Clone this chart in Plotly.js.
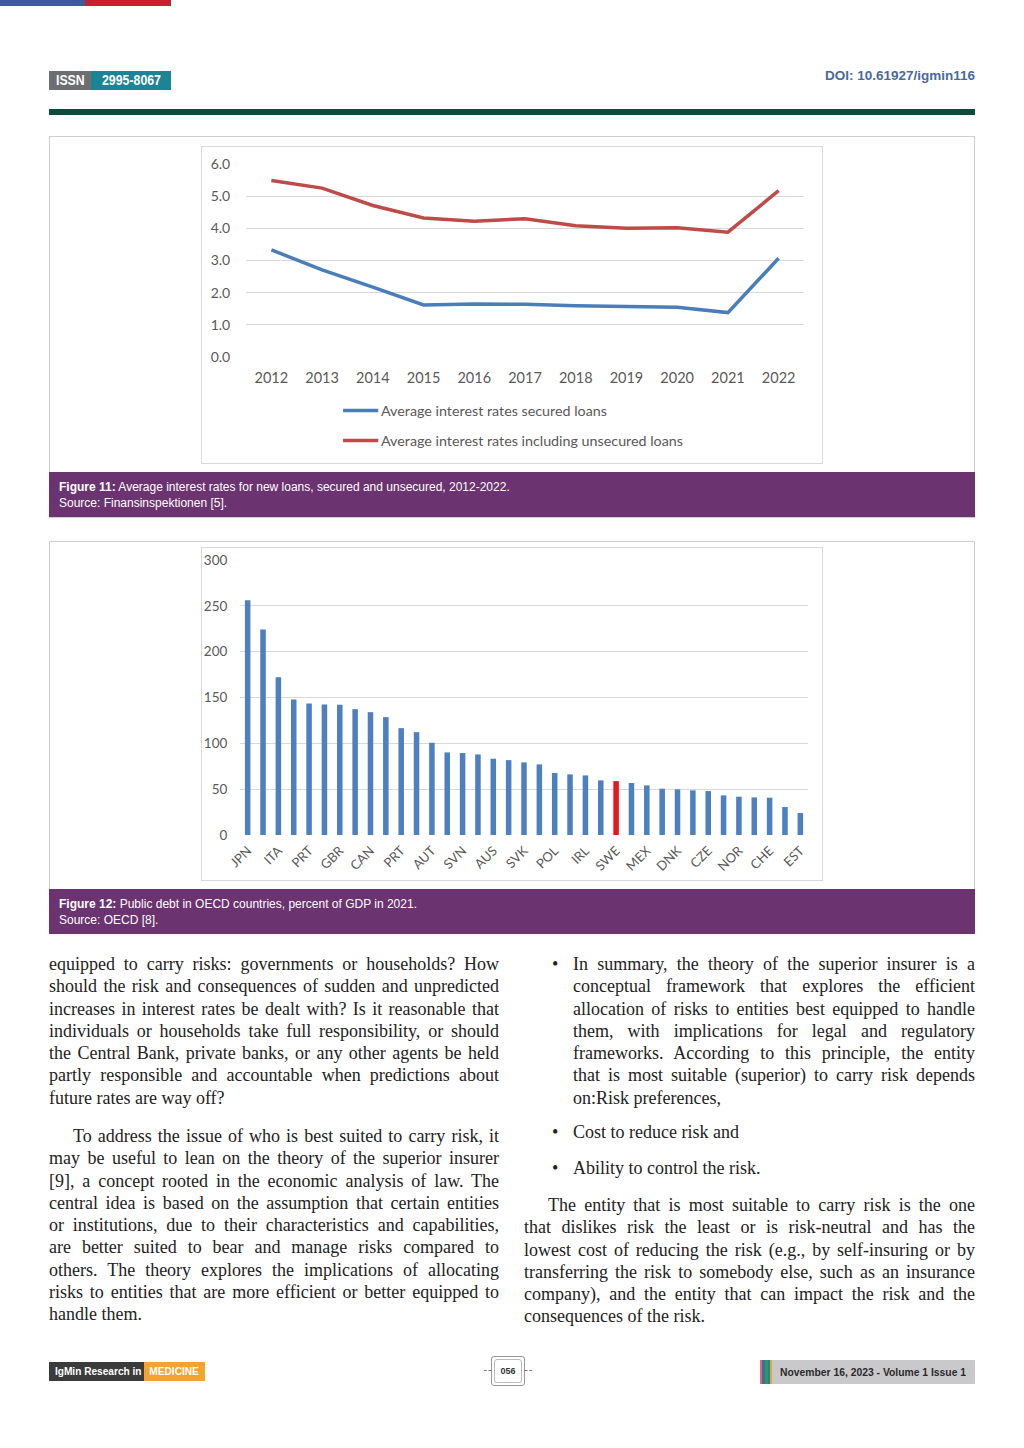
<!DOCTYPE html>
<html><head><meta charset="utf-8">
<script src="https://cdn.plot.ly/plotly-3.0.1.min.js"></script>
<style>
html,body{margin:0;padding:0;background:#fff;}
body{width:1024px;height:1448px;position:relative;overflow:hidden;font-family:"Liberation Sans",Arial,sans-serif;}
.abs{position:absolute;}
.cond{font-family:"Liberation Sans",Arial,sans-serif;font-weight:bold;white-space:nowrap;overflow:hidden;}
.sqc{display:inline-block;transform:scaleX(0.88);transform-origin:center center;}
.figbox{position:absolute;left:49px;width:926px;border:1px solid #cdcdcd;box-sizing:border-box;background:#fff;}
.chartbox{position:absolute;border:1px solid #d9d9d9;box-sizing:border-box;background:#fff;}
.cap{position:absolute;left:49px;width:926px;background:#6b336f;color:#fff;font-size:12px;line-height:15.5px;box-sizing:border-box;padding:8px 10px;}
.col{position:absolute;font-family:"Liberation Serif","Times New Roman",serif;font-size:18px;line-height:22.3px;color:#222;}
.ln{display:block;text-align:justify;text-align-last:justify;height:22.3px;}
.ln.last{text-align:left;text-align-last:left;}
.bul{position:absolute;left:-21px;}
</style></head><body>
<!-- top accent bar -->
<div class="abs" style="left:0;top:0;width:85px;height:6px;background:#3f5b9c"></div>
<div class="abs" style="left:85px;top:0;width:86px;height:6px;background:#c5212f"></div>
<!-- ISSN badge -->
<div class="abs cond" style="left:49px;top:71px;width:42px;height:19px;background:#6d6e71;color:#fff;font-size:14px;line-height:19px;text-align:center"><span class="sqc">ISSN</span></div>
<div class="abs cond" style="left:91px;top:71px;width:80px;height:19px;background:#1b8597;color:#fff;font-size:14px;line-height:19px;text-align:center"><span class="sqc">2995-8067</span></div>
<div class="abs cond" style="left:805px;top:67px;width:170px;height:18px;color:#4a6a9c;font-size:13.5px;line-height:18px;text-align:right">DOI: 10.61927/igmin116</div>
<div class="abs" style="left:49px;top:109px;width:926px;height:6px;background:#0c4a3c"></div>

<!-- Figure 11 -->
<div class="figbox" style="top:136px;height:382px"></div>
<div class="chartbox" style="left:201px;top:146px;width:622px;height:318px"><div id="chart1" style="width:620px;height:316px"></div></div>
<div class="cap" style="top:472px;height:45px"><b>Figure 11:</b> Average interest rates for new loans, secured and unsecured, 2012-2022.<br>Source: Finansinspektionen [5].</div>

<!-- Figure 12 -->
<div class="figbox" style="top:541px;height:393px"></div>
<div class="chartbox" style="left:201px;top:547px;width:622px;height:334px"><div id="chart2" style="width:620px;height:332px"></div></div>
<div class="cap" style="top:889px;height:45px"><b>Figure 12:</b> Public debt in OECD countries, percent of GDP in 2021.<br>Source: OECD [8].</div>

<!-- Left column -->
<div class="col" style="left:49px;top:953px;width:450px">
<span class="ln">equipped to carry risks: governments or households? How</span>
<span class="ln">should the risk and consequences of sudden and unpredicted</span>
<span class="ln">increases in interest rates be dealt with? Is it reasonable that</span>
<span class="ln">individuals or households take full responsibility, or should</span>
<span class="ln">the Central Bank, private banks, or any other agents be held</span>
<span class="ln">partly responsible and accountable when predictions about</span>
<span class="ln last">future rates are way off?</span>
</div>
<div class="col" style="left:49px;top:1125px;width:450px">
<span class="ln" style="padding-left:24px">To address the issue of who is best suited to carry risk, it</span>
<span class="ln">may be useful to lean on the theory of the superior insurer</span>
<span class="ln">[9], a concept rooted in the economic analysis of law. The</span>
<span class="ln">central idea is based on the assumption that certain entities</span>
<span class="ln">or institutions, due to their characteristics and capabilities,</span>
<span class="ln">are better suited to bear and manage risks compared to</span>
<span class="ln">others. The theory explores the implications of allocating</span>
<span class="ln">risks to entities that are more efficient or better equipped to</span>
<span class="ln last">handle them.</span>
</div>

<!-- Right column -->
<div class="col" style="left:573px;top:953px;width:402px">
<span class="bul">•</span>
<span class="ln">In summary, the theory of the superior insurer is a</span>
<span class="ln">conceptual framework that explores the efficient</span>
<span class="ln">allocation of risks to entities best equipped to handle</span>
<span class="ln">them, with implications for legal and regulatory</span>
<span class="ln">frameworks. According to this principle, the entity</span>
<span class="ln">that is most suitable (superior) to carry risk depends</span>
<span class="ln last">on:Risk preferences,</span>
</div>
<div class="col" style="left:573px;top:1121px;width:402px"><span class="bul">•</span><span class="ln last">Cost to reduce risk and</span></div>
<div class="col" style="left:573px;top:1157px;width:402px"><span class="bul">•</span><span class="ln last">Ability to control the risk.</span></div>
<div class="col" style="left:524px;top:1194px;width:451px">
<span class="ln" style="padding-left:24px">The entity that is most suitable to carry risk is the one</span>
<span class="ln">that dislikes risk the least or is risk-neutral and has the</span>
<span class="ln">lowest cost of reducing the risk (e.g., by self-insuring or by</span>
<span class="ln">transferring the risk to somebody else, such as an insurance</span>
<span class="ln">company), and the entity that can impact the risk and the</span>
<span class="ln last">consequences of the risk.</span>
</div>

<!-- Footer -->
<div class="abs cond" style="left:49px;top:1362px;width:95px;height:19px;background:#3b3b3b;color:#fff;font-size:11.5px;line-height:19px;text-align:center"><span class="sqc">IgMin Research in</span></div>
<div class="abs cond" style="left:144px;top:1362px;width:61px;height:19px;background:#f4a331;color:#fff;font-size:11.5px;line-height:19px;text-align:center"><span class="sqc">MEDICINE</span></div>
<div class="abs" style="left:484px;top:1370px;width:7px;height:0;border-top:1px dashed #777"></div>
<div class="abs" style="left:525px;top:1370px;width:7px;height:0;border-top:1px dashed #777"></div>
<div class="abs" style="left:491px;top:1356px;width:34px;height:30px;border:1px solid #999;border-radius:3px;box-sizing:border-box"></div>
<div class="abs cond" style="left:494px;top:1359px;width:28px;height:24px;border:1px solid #bbb;border-radius:3px;box-sizing:border-box;font-size:9px;line-height:22px;text-align:center;color:#333">056</div>
<div class="abs" style="left:760px;top:1360px;width:215px;height:24px;background:#c9c9cb"></div>
<div class="abs" style="left:760px;top:1360px;width:2px;height:24px;background:#e06a6a"></div>
<div class="abs" style="left:762px;top:1360px;width:3px;height:24px;background:#3b6db3"></div>
<div class="abs" style="left:765px;top:1360px;width:3px;height:24px;background:#2e9a55"></div>
<div class="abs" style="left:768px;top:1360px;width:2px;height:24px;background:#1b8597"></div>
<div class="abs" style="left:770px;top:1360px;width:2px;height:24px;background:#e8a636"></div>
<div class="abs cond" style="left:780px;top:1360px;width:194px;height:24px;font-size:11px;line-height:24px;color:#2a2a2a"><span style="display:inline-block;transform:scaleX(0.94);transform-origin:left center">November 16, 2023 - Volume 1 Issue 1</span></div>

<script>
// ---------- Figure 11 data ----------
const years = ['2012','2013','2014','2015','2016','2017','2018','2019','2020','2021','2022'];
const securedRates   = [3.33, 2.71, 2.17, 1.62, 1.65, 1.64, 1.59, 1.57, 1.55, 1.38, 3.07];
const unsecuredRates = [5.49, 5.25, 4.71, 4.32, 4.22, 4.30, 4.08, 4.00, 4.02, 3.88, 5.17];
const rateSeriesNames = ['Average interest rates secured loans', 'Average interest rates including unsecured loans'];
const rateColors = ['#4a7ebb', '#be4b48'];

// ---------- Figure 12 data ----------
// 37 bars; only every other country is labelled in the original
const debtLabels = ['JPN','','ITA','','PRT','','GBR','','CAN','','PRT','','AUT','','SVN','','AUS','','SVK','',
                    'POL','','IRL','','SWE','','MEX','','DNK','','CZE','','NOR','','CHE','','EST'];
const debtValues = [256.1, 224.1, 172.2, 147.8, 143.5, 142.4, 142.0, 137.3, 134.0, 128.6,
                    116.6, 112.2, 100.6, 90.1, 89.4, 87.9, 83.2, 81.7, 79.2, 77.0,
                    67.6, 66.1, 65.0, 59.6, 58.8, 56.7, 54.1, 50.5, 49.8, 48.7,
                    47.9, 43.2, 41.8, 41.0, 40.7, 30.5, 24.0];
const highlightCountry = 'SWE';

const axisFont = 'Lato, "Open Sans", "Liberation Sans", sans-serif';
const gray = '#595959';
const cfg = {staticPlot:true, displayModeBar:false};

// legend drawn below the plot (paper coordinates), one row per series
const legendRowsY = [-0.277, -0.433];
const legendShapes = rateSeriesNames.map((n, i) => ({
  type:'line', xref:'paper', yref:'paper', x0:0.174, x1:0.237, y0:legendRowsY[i], y1:legendRowsY[i],
  line:{color: rateColors[i], width:3.5}
}));
const legendTexts = rateSeriesNames.map((n, i) => ({
  xref:'paper', yref:'paper', x:0.238, y:legendRowsY[i], xanchor:'left', yanchor:'middle',
  text:n, showarrow:false, font:{family:axisFont, size:14.3, color:gray}
}));

Plotly.newPlot('chart1', [
  {x: years, y: securedRates, name: rateSeriesNames[0], type:'scatter', mode:'lines',
   line:{color:rateColors[0], width:3.5}},
  {x: years, y: unsecuredRates, name: rateSeriesNames[1], type:'scatter', mode:'lines',
   line:{color:rateColors[1], width:3.5}}
], {
  width:620, height:316,
  margin:{l:44, r:18, t:17, b:106},
  paper_bgcolor:'#fff', plot_bgcolor:'#fff',
  font:{family:axisFont, size:14, color:gray},
  showlegend:false,
  xaxis:{type:'category', range:[-0.5, years.length - 0.5], showgrid:false, zeroline:false, showline:false,
         ticks:'outside', ticklen:8, tickcolor:'rgba(0,0,0,0)', tickfont:{size:14.5, color:gray}},
  yaxis:{range:[0,6], dtick:1, tickformat:'.1f', showgrid:true, gridcolor:'#d9d9d9', gridwidth:1,
         zeroline:false, showline:false, ticks:'outside', ticklen:12, tickcolor:'rgba(0,0,0,0)',
         tickfont:{size:14, color:gray}},
  shapes: legendShapes,
  annotations: legendTexts
}, cfg);

const debtX = debtValues.map((v, i) => i);
const tickIdx = debtLabels.map((l, i) => l ? i : -1).filter(i => i >= 0);
const barColors = debtLabels.map(l => l === highlightCountry ? '#e3191c' : '#4e7fbf');

Plotly.newPlot('chart2', [
  {x: debtX, y: debtValues, type:'bar', marker:{color: barColors}, showlegend:false}
], {
  width:620, height:332,
  margin:{l:38, r:14, t:12, b:45},
  paper_bgcolor:'#fff', plot_bgcolor:'#fff',
  bargap:0.64,
  font:{family:axisFont, size:13, color:gray},
  xaxis:{range:[-0.5, debtValues.length - 0.5], tickmode:'array',
         tickvals: tickIdx, ticktext: tickIdx.map(i => debtLabels[i]),
         tickangle:-45, showgrid:false, zeroline:false, showline:false,
         ticks:'outside', ticklen:2, tickcolor:'rgba(0,0,0,0)', tickfont:{size:13, color:gray}},
  yaxis:{range:[0,300], dtick:50, showgrid:true, gridcolor:'#d9d9d9', gridwidth:1,
         zeroline:false, showline:false, ticks:'outside', ticklen:9, tickcolor:'rgba(0,0,0,0)',
         tickfont:{size:13.5, color:gray}}
}, cfg);
</script>
</body></html>
